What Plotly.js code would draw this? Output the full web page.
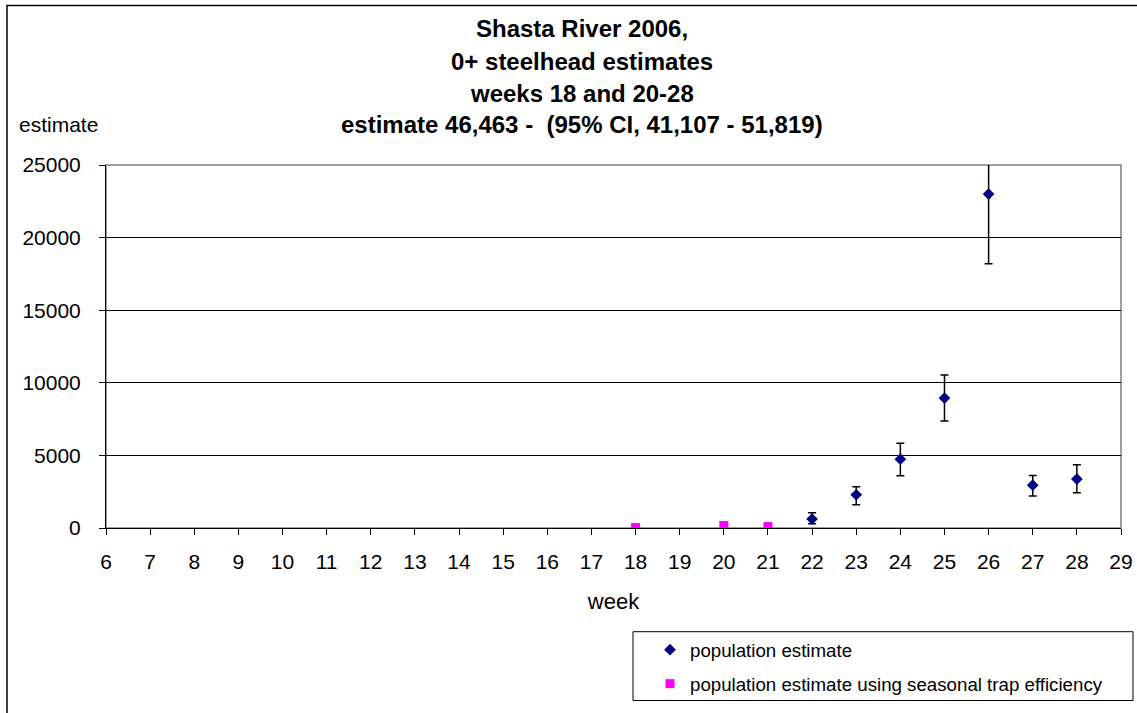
<!DOCTYPE html>
<html>
<head>
<meta charset="utf-8">
<script src="https://cdn.plot.ly/plotly-3.0.1.min.js"></script>
<style>
  html, body { margin: 0; padding: 0; background: #ffffff; }
  #chart { width: 1137px; height: 713px; }
</style>
</head>
<body>
<div id="chart"></div>
<script>
// Weekly population estimates with 95% confidence limits
const weeks = [22, 23, 24, 25, 26, 27, 28];
const estimates = [620, 2290, 4740, 8950, 23000, 2950, 3370];
const upperCI = [1050, 2840, 5840, 10530, 27800, 3620, 4350];
const lowerCI = [300, 1600, 3590, 7370, 18200, 2200, 2430];

// Weeks estimated with the seasonal trap efficiency
const seasonalWeeks = [18, 20, 21];
const seasonalEstimates = [30, 170, 100];

const titleLines = [
  "Shasta River 2006,",
  "0+ steelhead estimates",
  "weeks 18 and 20-28",
  "estimate 46,463 -  (95% CI, 41,107 - 51,819)"
];
const xTickVals = [6,7,8,9,10,11,12,13,14,15,16,17,18,19,20,21,22,23,24,25,26,27,28,29];
const yTickVals = [0, 5000, 10000, 15000, 20000, 25000];

const W = 1137, H = 713;
const M = { l: 106, r: 16, t: 165, b: 184 };
const plotW = W - M.l - M.r, plotH = H - M.t - M.b;
// pixel -> paper helpers for items placed around the plot area
const px = x => (x - M.l) / plotW;
const py = y => (H - M.b - y) / plotH;

const FONT = "Liberation Sans, Arial, sans-serif";

const errPlus = estimates.map((v, i) => upperCI[i] - v);
const errMinus = estimates.map((v, i) => v - lowerCI[i]);

const traces = [
  {
    type: "scatter", mode: "markers", name: "population estimate",
    x: weeks, y: estimates,
    marker: { symbol: "diamond", size: 9, color: "#000080" },
    error_y: { type: "data", symmetric: false, array: errPlus, arrayminus: errMinus,
               color: "#000000", thickness: 1.5, width: 4 },
    legend: "legend"
  },
  {
    type: "scatter", mode: "markers", name: "population estimate using seasonal trap efficiency",
    x: seasonalWeeks, y: seasonalEstimates,
    marker: { symbol: "square", size: 9, color: "#FF00FF" },
    legend: "legend2"
  }
];

const titleY = [28, 61, 93, 124];
const annotations = titleLines.map((t, i) => ({
  text: "<b>" + t + "</b>", xref: "paper", yref: "paper",
  x: px(582), y: py(titleY[i]), xanchor: "center", yanchor: "middle",
  showarrow: false, font: { family: FONT, size: 24, color: "#000" }
}));
annotations.push({
  text: "estimate", xref: "paper", yref: "paper", x: px(58), y: py(124),
  xanchor: "center", yanchor: "middle", showarrow: false,
  font: { family: FONT, size: 21, color: "#000" }
});

const layout = {
  width: W, height: H,
  margin: M,
  paper_bgcolor: "#ffffff", plot_bgcolor: "#ffffff",
  font: { family: FONT, color: "#000" },
  showlegend: true,
  xaxis: {
    range: [6, 29], tickvals: xTickVals, ticktext: xTickVals.map(String),
    showgrid: false, zeroline: false, showline: true, linecolor: "#000", linewidth: 1,
    ticks: "outside", ticklen: 6, tickcolor: "#000", ticklabelstandoff: 9,
    tickfont: { family: FONT, size: 21, color: "#000" },
    title: { text: "week", font: { family: FONT, size: 22, color: "#000" }, standoff: 21 }
  },
  yaxis: {
    range: [0, 25000], tickvals: yTickVals, ticktext: yTickVals.map(String),
    showgrid: true, gridcolor: "#000", gridwidth: 1, zeroline: false,
    showline: true, linecolor: "#000", linewidth: 1,
    ticks: "outside", ticklen: 6, tickcolor: "#000", ticklabelstandoff: 14,
    tickfont: { family: FONT, size: 21, color: "#000" }
  },
  legend: {
    x: px(650), y: py(650), xanchor: "left", yanchor: "middle",
    bgcolor: "rgba(0,0,0,0)", borderwidth: 0,
    font: { family: FONT, size: 18.7, color: "#000" }
  },
  legend2: {
    x: px(650), y: py(684), xanchor: "left", yanchor: "middle",
    bgcolor: "rgba(0,0,0,0)", borderwidth: 0,
    font: { family: FONT, size: 18.7, color: "#000" }
  },
  shapes: [
    // grey frame on the top and right of the plot area
    { type: "rect", xref: "paper", yref: "paper", x0: 0, x1: 1, y0: 0, y1: 1,
      line: { color: "#808080", width: 1.5 }, layer: "below" },
    // legend box
    { type: "rect", xref: "paper", yref: "paper", x0: px(633), x1: px(1133), y0: py(633), y1: py(702),
      line: { color: "#000", width: 1 } },
    // chart frame
    { type: "rect", xref: "paper", yref: "paper", x0: px(7), x1: px(1150), y0: py(5), y1: py(730),
      line: { color: "#000", width: 1.5 } }
  ],
  annotations: annotations
};

Plotly.newPlot("chart", traces, layout, { displayModeBar: false, staticPlot: true });
</script>
</body>
</html>
